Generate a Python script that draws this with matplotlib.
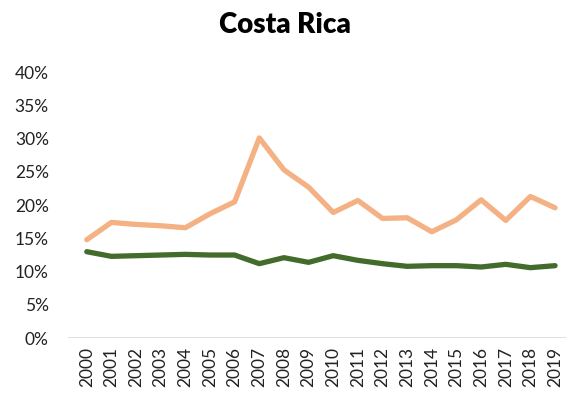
import matplotlib.pyplot as plt
from matplotlib.ticker import FuncFormatter

years = [str(y) for y in range(2000, 2020)]
orange_vals = [14.8, 17.4, 17.1, 16.9, 16.6, 18.7, 20.5, 30.1, 25.3, 22.7,
               18.9, 20.7, 18.0, 18.1, 16.0, 17.8, 20.8, 17.7, 21.3, 19.6]
green_vals = [13.0, 12.3, 12.4, 12.5, 12.6, 12.5, 12.5, 11.2, 12.1, 11.4,
              12.4, 11.7, 11.2, 10.8, 10.9, 10.9, 10.7, 11.1, 10.6, 10.9]

plt.rcParams['font.family'] = ['Lato', 'DejaVu Sans']

fig = plt.figure(figsize=(5.69, 4.05), dpi=100)
ax = fig.add_axes([0.12, 0.165, 0.875, 0.657])

x = range(len(years))
ax.plot(x, orange_vals, color='#F4B183', lw=3.8, solid_capstyle='round')
ax.plot(x, green_vals, color='#436B2B', lw=3.8, solid_capstyle='round')

ax.set_ylim(0, 40)
ax.set_yticks(range(0, 41, 5))
ax.yaxis.set_major_formatter(FuncFormatter(lambda v, _: f"{v:.0f}%"))
ax.set_xlim(-0.75, len(years) - 0.55)
ax.set_xticks(list(x))
ax.set_xticklabels(years, rotation=90)
ax.tick_params(length=0, labelsize=12.5, colors='#222222', pad=6)
ax.tick_params(axis='y', pad=14)
for s in ax.spines.values():
    s.set_visible(False)
ax.axhline(0, color='#d9d9d9', lw=1.2, zorder=0)

fig.suptitle('Costa Rica', fontsize=20, fontweight='heavy', y=0.97)

fig.savefig('out.png', dpi=100)
